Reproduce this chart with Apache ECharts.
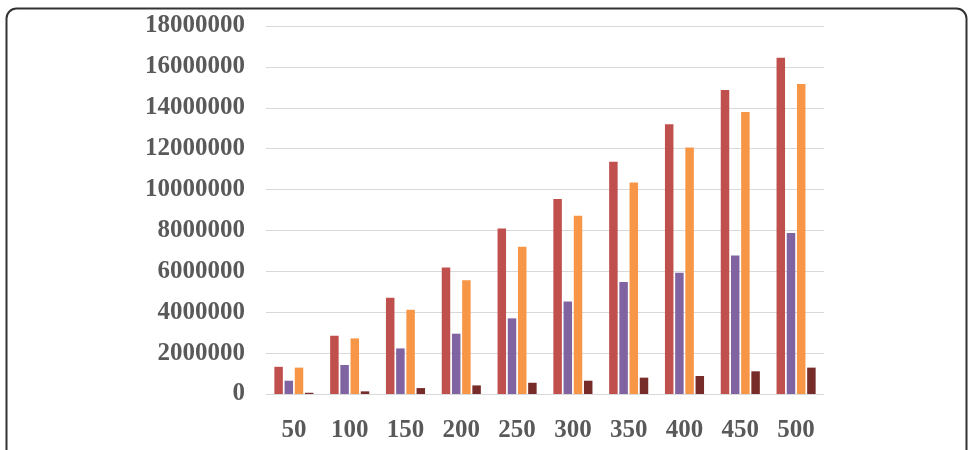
<!DOCTYPE html>
<html>
<head>
<meta charset="utf-8">
<script src="https://cdn.jsdelivr.net/npm/echarts@6/dist/echarts.min.js"></script>
<style>
  html, body { margin: 0; padding: 0; background: #fff; }
  #main { width: 969px; height: 450px; }
</style>
</head>
<body>
<div id="main"></div>
<script>
// categories along x
const categories = ["50", "100", "150", "200", "250", "300", "350", "400", "450", "500"];
// four series
const seriesRed    = [1330000, 2850000, 4710000, 6190000, 8100000, 9540000, 11360000, 13190000, 14870000, 16450000];
const seriesPurple = [650000, 1420000, 2230000, 2950000, 3700000, 4530000, 5480000, 5930000, 6780000, 7870000];
const seriesOrange = [1290000, 2720000, 4120000, 5560000, 7200000, 8720000, 10350000, 12060000, 13790000, 15160000];
const seriesDark   = [60000, 130000, 290000, 420000, 550000, 650000, 800000, 880000, 1110000, 1290000];

const colors = ["#c0504d", "#8064a2", "#f79646", "#772c2a"];
const labelFont = {
  fontFamily: "'Liberation Serif', 'Times New Roman', serif",
  fontWeight: "bold",
  fontSize: 25,
  color: "#595959"
};

const chart = echarts.init(document.getElementById("main"));
chart.setOption({
  animation: false,
  color: colors,
  graphic: [
    {
      type: "rect",
      left: 4, top: 6,
      shape: { width: 960, height: 470, r: 10 },
      style: { fill: "none", stroke: "#333", lineWidth: 2 },
      silent: true
    }
  ],
  grid: { left: 266, right: 145, top: 26, bottom: 56 },
  xAxis: {
    type: "category",
    data: categories,
    axisLine: { show: false },
    axisTick: { show: false },
    axisLabel: Object.assign({ margin: 24 }, labelFont)
  },
  yAxis: {
    type: "value",
    min: 0,
    max: 18000000,
    interval: 2000000,
    axisLine: { show: false },
    axisTick: { show: false },
    splitLine: { lineStyle: { color: "#d9d9d9", width: 1 } },
    axisLabel: Object.assign({ margin: 21, formatter: (v) => String(v) }, labelFont)
  },
  series: [
    { type: "bar", data: seriesRed, barWidth: 8.5, barGap: "20%" },
    { type: "bar", data: seriesPurple, barWidth: 8.5, barGap: "20%" },
    { type: "bar", data: seriesOrange, barWidth: 8.5, barGap: "20%" },
    { type: "bar", data: seriesDark, barWidth: 8.5, barGap: "20%" }
  ]
});
</script>
</body>
</html>
